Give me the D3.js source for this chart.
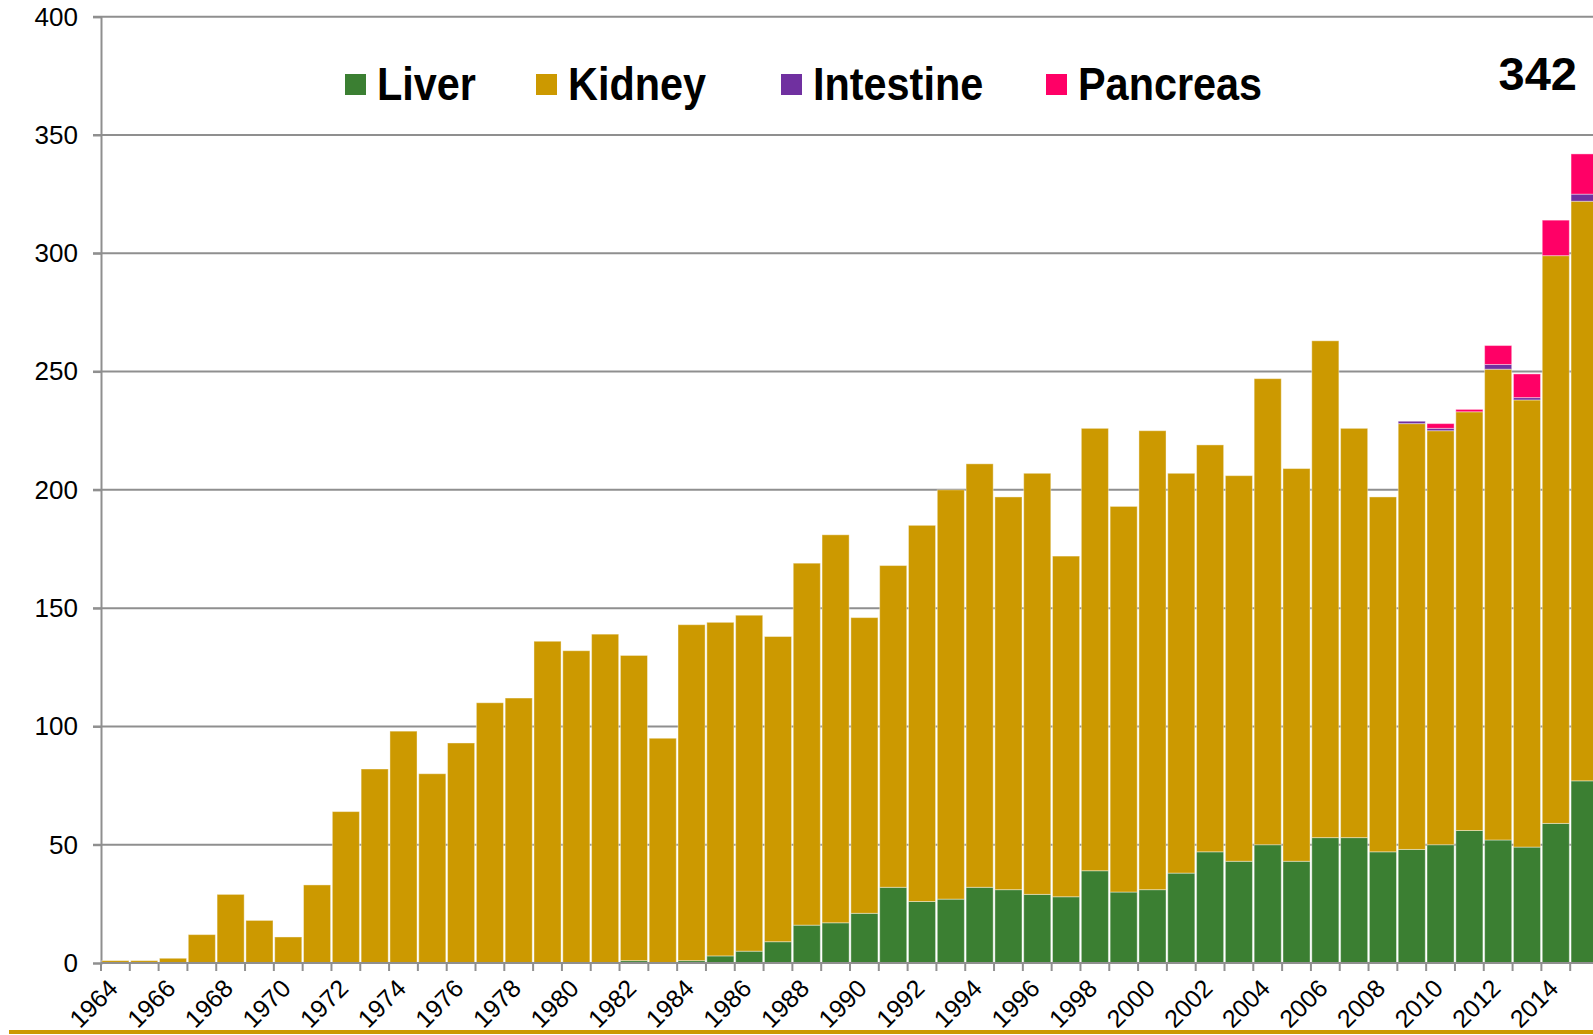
<!DOCTYPE html>
<html>
<head>
<meta charset="utf-8">
<style>
body { margin: 0; background: #fff; }
svg text { font-family: "Liberation Sans", Arial, sans-serif; }
.grid line { stroke: #8f8f8f; stroke-width: 2; }
</style>
</head>
<body>
<svg width="1593" height="1035"></svg>
<script src="https://d3js.org/d3.v7.min.js"></script>
<script>

var years = d3.range(1964, 2016);

var liver = [0,0,0,0,0,0,0,0,0,0, 0,0,0,0,0,0,0,0,1,0,
  1,3,5,9,16,17,21,32,26,27, 32,31,29,28,39,30,31,38,47,43,
  50,43,53,53,47,48,50,56,52,49, 59,77];

var kidney = [1,1,2,12,29,18,11,33,64,82, 98,80,93,110,112,136,132,139,129,95,
  142,141,142,129,153,164,125,136,159,173, 179,166,178,144,187,163,194,169,172,163,
  197,166,210,173,150,180,175,177,199,189, 240,245];

var intestine = [0,0,0,0,0,0,0,0,0,0, 0,0,0,0,0,0,0,0,0,0,
  0,0,0,0,0,0,0,0,0,0, 0,0,0,0,0,0,0,0,0,0,
  0,0,0,0,0,1,1,0,2,1, 0,3];

var pancreas = [0,0,0,0,0,0,0,0,0,0, 0,0,0,0,0,0,0,0,0,0,
  0,0,0,0,0,0,0,0,0,0, 0,0,0,0,0,0,0,0,0,0,
  0,0,0,0,0,0,2,1,8,10, 15,17];

var organs = ["Liver", "Kidney", "Intestine", "Pancreas"];
var colors = ["#3b7f32", "#cc9900", "#7030a0", "#ff0066"];
var yTicks = [0, 50, 100, 150, 200, 250, 300, 350, 400];
var topLabel = "342";

var svg = d3.select("svg");

var table = years.map(function(y, i) {
  return {year: y, Liver: liver[i], Kidney: kidney[i], Intestine: intestine[i], Pancreas: pancreas[i]};
});

var x = d3.scaleBand()
    .domain(years)
    .range([101, 1599])
    .paddingInner(0.06)
    .paddingOuter(0.03);

var y = d3.scaleLinear()
    .domain([0, 400])
    .range([963, 16.7]);

var color = d3.scaleOrdinal().domain(organs).range(colors);

// gridlines
svg.append("g")
    .attr("class", "grid")
    .selectAll("line")
    .data(yTicks.slice(1))
    .enter().append("line")
      .attr("x1", 93)
      .attr("x2", 1593)
      .attr("y1", function(d) { return y(d); })
      .attr("y2", function(d) { return y(d); });

// y axis
var yAxis = svg.append("g")
    .attr("transform", "translate(101,0)")
    .call(d3.axisLeft(y).tickValues(yTicks).tickSize(8).tickPadding(15));
yAxis.select(".domain").attr("stroke", "#8f8f8f").attr("stroke-width", 2);
yAxis.selectAll(".tick line").attr("stroke", "#8f8f8f").attr("stroke-width", 2);
yAxis.selectAll("text")
    .attr("font-size", 26)
    .attr("fill", "#000")
    .style("font-family", "'Liberation Sans', Arial, sans-serif");

// stacked bars
var series = d3.stack().keys(organs)(table);

svg.append("g")
  .selectAll("g")
  .data(series)
  .enter().append("g")
    .attr("fill", function(d) { return color(d.key); })
  .selectAll("rect")
  .data(function(d) { return d.filter(function(v) { return v[1] > v[0]; }); })
  .enter().append("rect")
    .attr("x", function(d) { return x(d.data.year); })
    .attr("width", x.bandwidth())
    .attr("y", function(d) { return y(d[1]); })
    .attr("height", function(d) { return y(d[0]) - y(d[1]); })
    .attr("stroke", "rgba(255,255,255,0.4)")
    .attr("stroke-width", 1);

// x axis: ticks at band edges
var xg = svg.append("g");
xg.append("line")
    .attr("x1", 101).attr("x2", 1593)
    .attr("y1", y(0)).attr("y2", y(0))
    .attr("stroke", "#8f8f8f").attr("stroke-width", 2);
xg.selectAll(".tk")
  .data(years)
  .enter().append("line")
    .attr("class", "tk")
    .attr("x1", function(d) { return x(d) - x.step() * x.paddingInner() / 2; })
    .attr("x2", function(d) { return x(d) - x.step() * x.paddingInner() / 2; })
    .attr("y1", y(0)).attr("y2", y(0) + 8)
    .attr("stroke", "#8f8f8f").attr("stroke-width", 2);

xg.selectAll(".lbl")
  .data(years.filter(function(d) { return d % 2 === 0; }))
  .enter().append("text")
    .attr("class", "lbl")
    .attr("font-size", 25)
    .attr("text-anchor", "end")
    .attr("transform", function(d) {
      return "translate(" + (x(d) + x.bandwidth() / 2 + 4) + ",990) rotate(-45)";
    })
    .text(function(d) { return d; });

// bottom gold rule
svg.append("line")
    .attr("x1", 9).attr("x2", 1593)
    .attr("y1", 1032).attr("y2", 1032)
    .attr("stroke", "#cc9900").attr("stroke-width", 4);

// legend
var legendX = [345, 536, 781, 1046];
var legend = svg.append("g")
  .selectAll("g")
  .data(organs)
  .enter().append("g")
    .attr("transform", function(d, i) { return "translate(" + legendX[i] + ",74)"; });
legend.append("rect")
    .attr("width", 21).attr("height", 21)
    .attr("fill", function(d) { return color(d); });
legend.append("text")
    .attr("transform", "translate(32,26) scale(0.9,1)")
    .attr("font-size", 46)
    .attr("font-weight", "bold")
    .text(function(d) { return d; });

svg.append("text")
    .attr("x", 1577)
    .attr("y", 90)
    .attr("text-anchor", "end")
    .attr("font-size", 47)
    .attr("font-weight", "bold")
    .text(topLabel);

</script>
</body>
</html>
